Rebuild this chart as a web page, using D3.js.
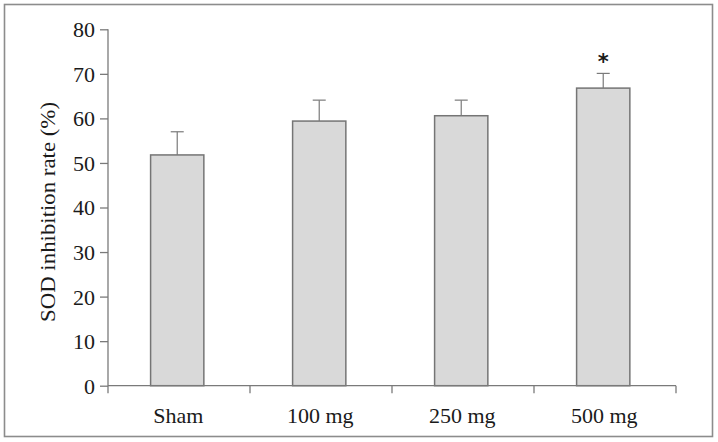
<!DOCTYPE html>
<html>
<head>
<meta charset="utf-8">
<script src="https://cdn.jsdelivr.net/npm/d3@7"></script>
<style>
  html, body { margin: 0; padding: 0; background: #fff; }
  svg { display: block; }
</style>
</head>
<body>
<svg id="chart" width="718" height="442"></svg>
<script>
const categories = ["Sham", "100 mg", "250 mg", "500 mg"];
const means = [51.8, 59.4, 60.6, 66.8];
const errors = [5.2, 4.7, 3.5, 3.3];
const significant = [false, false, false, true];
const yTicks = [0, 10, 20, 30, 40, 50, 60, 70, 80];
const yTitle = "SOD inhibition rate (%)";

const serif = "'Liberation Serif', 'Times New Roman', Times, serif";
const svg = d3.select("#chart");
const axisColor = "#7a7a7a";
const textColor = "#1a1a1a";

// outer frame
svg.append("rect")
  .attr("x", 4.5).attr("y", 4.5)
  .attr("width", 708).attr("height", 432)
  .attr("fill", "none").attr("stroke", "#8c8c8c").attr("stroke-width", 1.6);

const plotLeft = 108, plotRight = 676, plotTop = 29.3, plotBottom = 385.7;

const x = d3.scaleBand().domain(categories).range([plotLeft, plotRight]).padding(0);
const y = d3.scaleLinear().domain([0, 80]).range([plotBottom, plotTop]);

const bw = x.bandwidth();
const barW = bw * 0.375;
const barOffset = bw * 0.3;

// bars
svg.append("g").selectAll("rect")
  .data(categories)
  .join("rect")
  .attr("x", (d) => x(d) + barOffset)
  .attr("y", (d, i) => y(means[i]))
  .attr("width", barW)
  .attr("height", (d, i) => y(0) - y(means[i]))
  .attr("fill", "#d9d9d9")
  .attr("stroke", "#757575")
  .attr("stroke-width", 1.5);

// error bars (upper only)
const eg = svg.append("g").attr("stroke", "#7a7a7a").attr("stroke-width", 1.2);
categories.forEach((c, i) => {
  const cx = x(c) + barOffset + barW / 2;
  eg.append("line").attr("x1", cx).attr("x2", cx)
    .attr("y1", y(means[i])).attr("y2", y(means[i] + errors[i]));
  eg.append("line").attr("x1", cx - 6.5).attr("x2", cx + 6.5)
    .attr("y1", y(means[i] + errors[i])).attr("y2", y(means[i] + errors[i]));
  if (significant[i]) {
    svg.append("text")
      .attr("x", cx).attr("y", y(means[i] + errors[i]) - 4)
      .attr("text-anchor", "middle")
      .style("font-size", "21px").style("font-weight", "bold")
      .style("font-family", "'DejaVu Sans', sans-serif")
      .style("fill", textColor)
      .text("*");
  }
});

// y axis
const yAxis = svg.append("g")
  .attr("transform", `translate(${plotLeft},0)`)
  .call(d3.axisLeft(y).tickValues(yTicks).tickSize(8).tickPadding(5).tickSizeOuter(0));
yAxis.select(".domain").remove();
yAxis.append("line").attr("x1", 0).attr("x2", 0).attr("y1", plotTop).attr("y2", plotBottom + 7.5)
  .attr("stroke", axisColor).attr("stroke-width", 1.3);
yAxis.selectAll(".tick line").attr("stroke", axisColor).attr("stroke-width", 1.3);
yAxis.selectAll(".tick text")
  .style("font-family", serif).style("font-size", "22px")
  .attr("dy", "0.34em").style("fill", textColor);

// x axis
const xg = svg.append("g");
xg.append("line").attr("x1", plotLeft).attr("x2", plotRight).attr("y1", plotBottom).attr("y2", plotBottom)
  .attr("stroke", axisColor).attr("stroke-width", 1.3);
const boundaries = categories.map((c) => x(c) + bw);
xg.selectAll("line.tk").data(boundaries).join("line").attr("class", "tk")
  .attr("x1", (d) => d).attr("x2", (d) => d)
  .attr("y1", plotBottom).attr("y2", plotBottom + 7.5)
  .attr("stroke", axisColor).attr("stroke-width", 1.3);
xg.selectAll("text").data(categories).join("text")
  .attr("x", (d) => x(d) + barOffset + barW / 2 + 1)
  .attr("y", 423)
  .attr("text-anchor", "middle")
  .style("font-family", serif).style("font-size", "22px")
  .style("fill", textColor)
  .text((d) => d);

// y title
svg.append("text")
  .attr("transform", `translate(55,212) rotate(-90)`)
  .attr("text-anchor", "middle")
  .style("font-family", serif).style("font-size", "21px")
  .style("fill", textColor)
  .attr("textLength", 220)
  .attr("lengthAdjust", "spacingAndGlyphs")
  .text(yTitle);
</script>
</body>
</html>
